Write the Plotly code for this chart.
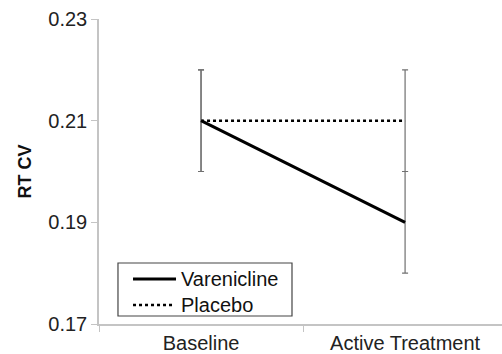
import plotly.graph_objects as go

categories = ["Baseline", "Active Treatment"]
varenicline = [0.21, 0.19]
varenicline_err = [0.01, 0.01]
placebo = [0.21, 0.21]
placebo_err = [0.01, 0.01]
y_ticks = [0.17, 0.19, 0.21, 0.23]
y_tick_labels = ["0.17", "0.19", "0.21", "0.23"]
series_names = ["Varenicline", "Placebo"]

FONT = "Liberation Sans, Arial, sans-serif"
FS = 20

fig = go.Figure()
fig.add_trace(go.Scatter(
    x=categories, y=placebo, name=series_names[1], mode="lines",
    line=dict(color="black", width=2.5, dash="dot"),
    error_y=dict(type="data", array=placebo_err, color="#707070", thickness=1.2, width=3),
    showlegend=False,
))
fig.add_trace(go.Scatter(
    x=categories, y=varenicline, name=series_names[0], mode="lines",
    line=dict(color="black", width=3),
    error_y=dict(type="data", array=varenicline_err, color="#707070", thickness=1.2, width=3),
    showlegend=False,
))

# legend drawn as a box with samples (paper coordinates)
fig.add_shape(type="rect", xref="paper", yref="paper", x0=0.0471, x1=0.4789, y0=0.0262, y1=0.2,
              line=dict(color="#444444", width=1.2), fillcolor="white", layer="above")
fig.add_shape(type="line", xref="paper", yref="paper", x0=0.0844, x1=0.1911, y0=0.1475, y1=0.1475,
              line=dict(color="black", width=3))
fig.add_shape(type="line", xref="paper", yref="paper", x0=0.0844, x1=0.1836, y0=0.0623, y1=0.0623,
              line=dict(color="black", width=2.5, dash="dot"))
fig.add_annotation(xref="paper", yref="paper", x=0.1985, y=0.1475, xanchor="left", yanchor="middle",
                   text=series_names[0], showarrow=False, font=dict(family=FONT, size=FS, color="#111111"))
fig.add_annotation(xref="paper", yref="paper", x=0.1985, y=0.0623, xanchor="left", yanchor="middle",
                   text=series_names[1], showarrow=False, font=dict(family=FONT, size=FS, color="#111111"))

fig.update_layout(
    width=502, height=354,
    margin=dict(l=99, r=0, t=19, b=30),
    paper_bgcolor="white", plot_bgcolor="white",
    font=dict(family=FONT, size=FS, color="#222222"),
    showlegend=False,
    xaxis=dict(
        type="category", range=[-0.5, 1.475],
        showline=True, linecolor="#c4c4c4", linewidth=1.5,
        ticks="outside", tickson="boundaries", ticklen=6, tickcolor="#c4c4c4",
        showgrid=False, zeroline=False, automargin=False,
        tickfont=dict(family=FONT, size=FS, color="#222222"),
    ),
    yaxis=dict(
        range=[0.17, 0.23], tickvals=y_ticks, ticktext=y_tick_labels,
        showline=True, linecolor="#c4c4c4", linewidth=1.5,
        ticks="outside", ticklen=6, tickcolor="#c4c4c4",
        showgrid=False, zeroline=False, automargin=False,
        tickfont=dict(family=FONT, size=FS, color="#222222"),
        title=dict(text="<b>RT CV</b>", font=dict(family=FONT, size=18, color="#111111"), standoff=12),
    ),
)

fig.write_html("out.html")
